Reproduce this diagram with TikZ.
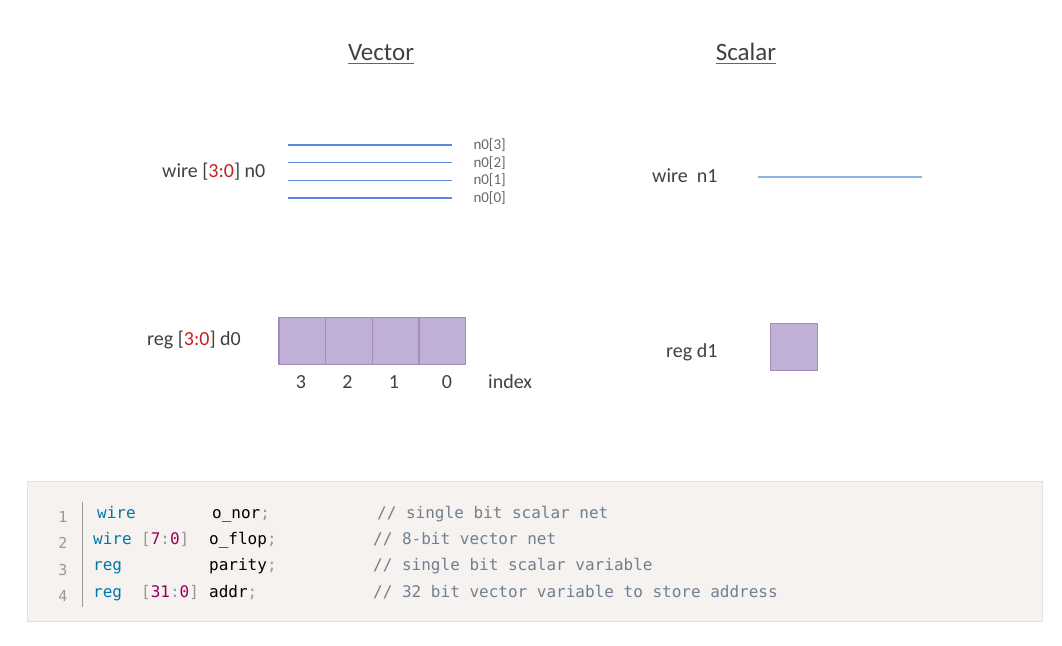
\documentclass[tikz,border=0pt]{standalone}
\usepackage{fontspec}
\setmainfont{Carlito}
\newfontfamily\codefont{DejaVu Sans Mono}
\definecolor{txtgray}{HTML}{404040}
\definecolor{rangered}{HTML}{C81E1E}
\definecolor{busblue}{HTML}{5A8AD6}
\definecolor{netblue}{HTML}{8DB4E2}
\definecolor{cellfill}{HTML}{C1B0D5}
\definecolor{cellborder}{HTML}{A48BBF}
\definecolor{codebg}{HTML}{F5F2F0}
\definecolor{codeborder}{HTML}{E3E0DD}
\definecolor{kwblue}{HTML}{0077AA}
\definecolor{numpurple}{HTML}{990055}
\definecolor{punct}{HTML}{999999}
\definecolor{cmtgray}{HTML}{708090}
\newcommand\rng[2]{\textcolor{punct}{[}\textcolor{numpurple}{#1}\textcolor{punct}{:}\textcolor{numpurple}{#2}\textcolor{punct}{]}}
\newcommand\semi{\textcolor{punct}{;}}
\begin{document}
\begin{tikzpicture}[x=1pt,y=-1pt,
    title/.style={inner sep=0pt,anchor=base,text=txtgray,font=\fontsize{25}{30}\selectfont},
    lbl/.style={inner sep=0pt,anchor=base west,text=txtgray,font=\fontsize{20}{24}\selectfont},
    bitlbl/.style={inner sep=0pt,anchor=west,text=txtgray!80,font=\fontsize{15}{17}\selectfont},
    bit/.style={draw=cellborder,fill=cellfill,line width=1.2pt,inner sep=0pt,anchor=north west,
        minimum width=46.7pt,minimum height=47.3pt},
    code/.style={inner sep=0pt,anchor=base west,font=\codefont\fontsize{16}{19}\selectfont},
    kw/.style={code,text=kwblue},
    cmt/.style={code,text=cmtgray},
    lnum/.style={inner sep=0pt,anchor=base,text=punct,font=\codefont\fontsize{15}{17}\selectfont}]
    \useasboundingbox (0,0) rectangle (1062,645);

    % titles
    \node[title] (vec) at (381,60) {Vector};
    \node[title] (sca) at (746,60) {Scalar};
    \draw[txtgray!80,line width=1.5pt] ([yshift=-3pt]vec.south west) -- ([yshift=-3pt]vec.south east);
    \draw[txtgray!80,line width=1.5pt] ([yshift=-3pt]sca.south west) -- ([yshift=-3pt]sca.south east);

    % vector net
    \node[lbl] (n0) at (162,177) {wire [\textcolor{rangered}{3:0}] n0};
    \foreach \i in {3,...,0} {
        \coordinate (n0a\i) at (288.3,{145+(3-\i)*17.7});
        \coordinate (n0b\i) at (452.3,{145+(3-\i)*17.7});
        \draw[busblue,line width=1.4pt] (n0a\i) -- (n0b\i);
        \node[bitlbl] (n0l\i) at ([xshift=21pt]n0b\i) {n0[\i]};
    }

    % scalar net
    \node[lbl] (n1) at (652,182) {wire\ \ n1};
    \coordinate (n1a) at (758,177.3);
    \coordinate (n1b) at (921.7,177.3);
    \draw[netblue,line width=1.8pt] (n1a) -- (n1b);

    % vector variable
    \node[lbl] (d0) at (147,345) {reg [\textcolor{rangered}{3:0}] d0};
    \foreach \i/\x/\t in {3/278.3/301,2/325/347.5,1/371.7/394,0/418.4/447} {
        \node[bit] (d0c\i) at (\x,316.7) {};
        \node[lbl,anchor=base] (d0i\i) at (\t,388) {\i};
    }
    \node[lbl] (idx) at (488,388) {index};

    % scalar variable
    \node[lbl] (d1) at (666,357) {reg d1};
    \node[bit] (d1c) at (770,322.7) {};

    % code listing
    \draw[codeborder,fill=codebg] (27,481) rectangle (1042,621);
    \draw[punct,line width=1pt] (82,502) -- (82,607);
    \foreach \n/\y in {1/522,2/548,3/575,4/601}
        \node[lnum] (ln\n) at (63,\y) {\n};

    \node[kw] (k1) at (97,518) {wire};
    \node[code] (v1) at (212,518) {o\_nor\semi};
    \node[cmt] (c1) at (377,518) {// single bit scalar net};

    \node[kw] (k2) at (93,544.3) {wire};
    \node[code] (r2) at (141,544.3) {\rng{7}{0}};
    \node[code] (v2) at (209,544.3) {o\_flop\semi};
    \node[cmt] (c2) at (373,544.3) {// 8-bit vector net};

    \node[kw] (k3) at (93,570.6) {reg};
    \node[code] (v3) at (209,570.6) {parity\semi};
    \node[cmt] (c3) at (373,570.6) {// single bit scalar variable};

    \node[kw] (k4) at (93,597) {reg};
    \node[code] (r4) at (141,597) {\rng{31}{0}};
    \node[code] (v4) at (209,597) {addr\semi};
    \node[cmt] (c4) at (373,597) {// 32 bit vector variable to store address};
\end{tikzpicture}
\end{document}
